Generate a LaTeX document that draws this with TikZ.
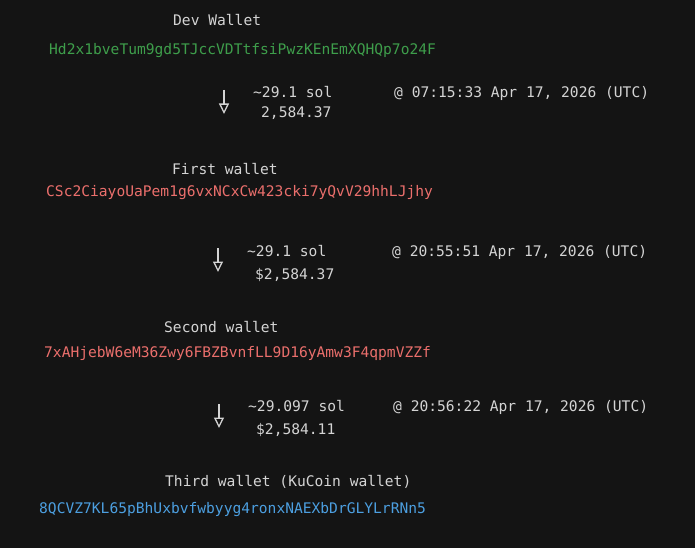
\documentclass[tikz,border=0pt]{standalone}
\usepackage{fontspec}
\setmonofont{DejaVu Sans Mono}
\usetikzlibrary{arrows.meta}
\definecolor{bg}{HTML}{141414}
\definecolor{fg}{HTML}{D4D4D4}
\definecolor{addrgreen}{HTML}{3E9E4B}
\definecolor{addrred}{HTML}{EB6F6C}
\definecolor{addrblue}{HTML}{4C9FE0}
\tikzset{
  txt/.style={anchor=base west, inner sep=0pt, text=fg, font=\fontsize{14.6}{16}\ttfamily},
  addr/.style={txt},
  flow/.style={draw=fg, line width=1.3pt, -{Triangle[open, length=10.5pt, width=10pt, line width=1.3pt]}}
}
\begin{document}
\begin{tikzpicture}[x=1pt, y=-1pt]
\fill[bg] (0,0) rectangle (695,548);
\useasboundingbox (0,0) rectangle (695,548);
% Dev wallet
\node[txt] (dev) at (173,26) {Dev Wallet};
\node[addr, text=addrgreen] (devaddr) at (49,55) {Hd2x1bveTum9gd5TJccVDTtfsiPwzKEnEmXQHQp7o24F};
\coordinate (a1s) at (224,90);
\coordinate (a1e) at (224,114);
\draw[flow] (a1s) -- (a1e);
\node[txt] (sol1) at (253,98) {\char`\~29.1 sol};
\node[txt] (usd1) at (261,118) {2,584.37};
\node[txt] (t1) at (394,98) {@ 07:15:33 Apr 17, 2026 (UTC)};
% First wallet
\node[txt] (first) at (172,175) {First wallet};
\node[addr, text=addrred] (firstaddr) at (46,196) {CSc2CiayoUaPem1g6vxNCxCw423cki7yQvV29hhLJjhy};
\coordinate (a2s) at (218,248);
\coordinate (a2e) at (218,272);
\draw[flow] (a2s) -- (a2e);
\node[txt] (sol2) at (247,256) {\char`\~29.1 sol};
\node[txt] (usd2) at (255,279) {\$2,584.37};
\node[txt] (t2) at (392,256) {@ 20:55:51 Apr 17, 2026 (UTC)};
% Second wallet
\node[txt] (second) at (164,332) {Second wallet};
\node[addr, text=addrred] (secondaddr) at (44,357) {7xAHjebW6eM36Zwy6FBZBvnfLL9D16yAmw3F4qpmVZZf};
\coordinate (a3s) at (219,404);
\coordinate (a3e) at (219,428);
\draw[flow] (a3s) -- (a3e);
\node[txt] (sol3) at (248,411) {\char`\~29.097 sol};
\node[txt] (usd3) at (256,434) {\$2,584.11};
\node[txt] (t3) at (393,411) {@ 20:56:22 Apr 17, 2026 (UTC)};
% Third wallet
\node[txt] (third) at (165,486) {Third wallet (KuCoin wallet)};
\node[addr, text=addrblue] (thirdaddr) at (39,513) {8QCVZ7KL65pBhUxbvfwbyyg4ronxNAEXbDrGLYLrRNn5};
\end{tikzpicture}
\end{document}
